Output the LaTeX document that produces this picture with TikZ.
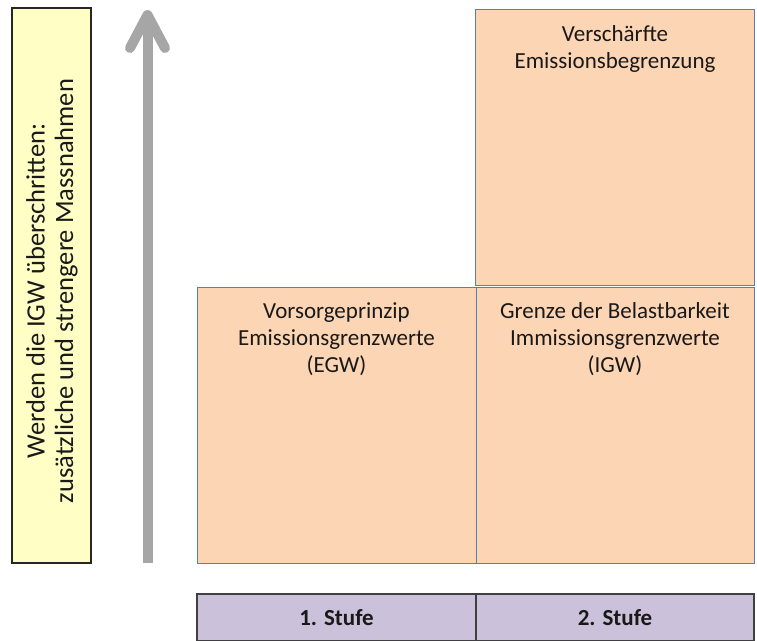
\documentclass[tikz,border=0pt]{standalone}
\usepackage{fontspec}
\setmainfont{Carlito}
\definecolor{ofill}{HTML}{FCD5B5}
\definecolor{odraw}{HTML}{5B7DB0}
\definecolor{yfill}{HTML}{FFFFC5}
\definecolor{pfill}{HTML}{CCC1DA}
\definecolor{pdraw}{HTML}{404040}
\definecolor{agray}{HTML}{A6A6A6}
\tikzset{
  obox/.style={draw=odraw, fill=ofill, line width=1pt, inner sep=0pt},
  ybox/.style={draw=black!85, fill=yfill, line width=1.2pt, inner sep=0pt},
  pbox/.style={draw=pdraw, fill=pfill, line width=1.4pt, inner sep=0pt},
  otext/.style={anchor=north, inner sep=0pt, align=center, font=\fontsize{23}{27}\selectfont, text=black!90},
  ptext/.style={inner sep=0pt, font=\fontsize{23}{28}\selectfont\bfseries, text=black!90},
  ytext/.style={inner sep=0pt, align=center, rotate=90, font=\fontsize{26.5}{28.5}\selectfont, text=black!90},
  uparrow/.style={draw=agray, line width=10pt}
}
\begin{document}
\begin{tikzpicture}[x=1pt,y=-1pt]
\useasboundingbox (0,0) rectangle (757,640);
\clip (0,0) rectangle (757,640);
% yellow side box
\node[ybox, minimum width=79pt, minimum height=555pt] (side) at (51.5,285.5) {};
\node[ytext] (sidetext) at (52,291) {Werden die IGW überschritten:\\zusätzliche und strengere Massnahmen};
% arrow
\coordinate (abot) at (147.5,563);
\coordinate (atip) at (147.5,15);
\coordinate (awl) at (130,48);
\coordinate (awr) at (165,48);
\draw[uparrow, line cap=butt] (abot) -- (147.5,20);
\draw[uparrow, line cap=round, line join=round] (awl) -- (atip) -- (awr);
% orange boxes
\node[obox, minimum width=279pt, minimum height=276pt] (top) at (615,147.5) {};
\node[obox, minimum width=279pt, minimum height=276pt] (left) at (336.5,425) {};
\node[obox, minimum width=278pt, minimum height=276pt] (right) at (615,425) {};
\node[otext] (toptext) at ([yshift=-16pt]top.north) {Verschärfte\\Emissionsbegrenzung};
\node[otext] (lefttext) at ([yshift=-16pt]left.north) {Vorsorgeprinzip\\Emissionsgrenzwerte\\(EGW)};
\node[otext] (righttext) at ([yshift=-16pt]right.north) {Grenze der Belastbarkeit\\Immissionsgrenzwerte\\(IGW)};
% purple stage bar
\node[pbox, minimum width=279pt, minimum height=47pt] (s1) at (336.5,617.5) {};
\node[pbox, minimum width=278pt, minimum height=47pt] (s2) at (615,617.5) {};
\node[ptext] (s1t) at (s1.center) {1. Stufe};
\node[ptext] (s2t) at (s2.center) {2. Stufe};
\end{tikzpicture}
\end{document}
